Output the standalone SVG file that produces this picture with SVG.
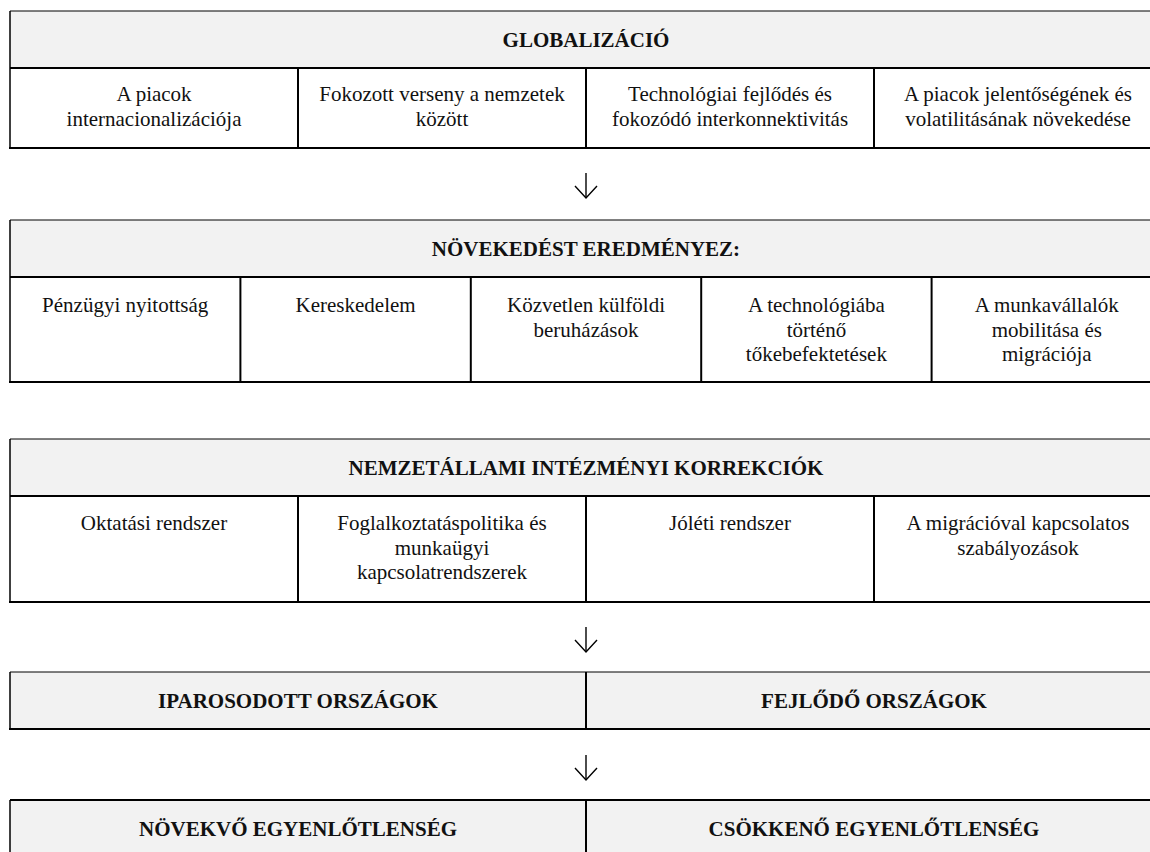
<svg xmlns="http://www.w3.org/2000/svg" width="1150" height="852" viewBox="0 0 1150 852">
  <defs>
    <style>
      .bg { fill: #ffffff; }
      .hdr { fill: #f2f2f2; }
      .thin { stroke: #000; stroke-width: 1; fill: none; }
      .thick { stroke: #000; stroke-width: 2; fill: none; }
      .side { stroke: #000; stroke-width: 1.5; fill: none; }
      .t { font-family: "Liberation Serif", "Times New Roman", serif; font-size: 21px; text-anchor: middle; fill: #111; }
      .h { font-weight: bold; }
      .arrow { stroke: #000; stroke-width: 1.4; fill: none; marker-end: url(#head); }
    </style>
    <marker id="head" viewBox="-1 -1 14 24" refX="12" refY="11" markerWidth="14" markerHeight="24" markerUnits="userSpaceOnUse" orient="auto" overflow="visible">
      <path d="M0,0 L12,11 L0,22" fill="none" stroke="#000" stroke-width="1.4"/>
    </marker>
  </defs>
  <rect class="bg" x="0" y="0" width="1150" height="852"/>

  <!-- Table 1: GLOBALIZÁCIÓ -->
  <g id="globalizacio">
    <rect class="hdr" x="10" y="11" width="1152" height="57"/>
    <text class="t h" x="586" y="47">GLOBALIZÁCIÓ</text>
    <g id="glob-1"><text class="t" x="154" y="101">A piacok</text><text class="t" x="154" y="125.5">internacionalizációja</text></g>
    <g id="glob-2"><text class="t" x="442" y="101">Fokozott verseny a nemzetek</text><text class="t" x="442" y="125.5">között</text></g>
    <g id="glob-3"><text class="t" x="730" y="101">Technológiai fejlődés és</text><text class="t" x="730" y="125.5">fokozódó interkonnektivitás</text></g>
    <g id="glob-4"><text class="t" x="1018" y="101">A piacok jelentőségének és</text><text class="t" x="1018" y="125.5">volatilitásának növekedése</text></g>
    <line class="thin" x1="10" y1="11" x2="1162" y2="11"/>
    <line class="thick" x1="10" y1="68" x2="1162" y2="68"/>
    <line class="thick" x1="9" y1="148" x2="1162" y2="148"/>
    <line class="side" x1="10" y1="11" x2="10" y2="149"/>
    <line class="thick" x1="298" y1="68" x2="298" y2="148"/>
    <line class="thick" x1="586" y1="68" x2="586" y2="148"/>
    <line class="thick" x1="874" y1="68" x2="874" y2="148"/>
  </g>

  <!-- Table 2: NÖVEKEDÉST EREDMÉNYEZ -->
  <g id="novekedes">
    <rect class="hdr" x="10" y="220" width="1152" height="57"/>
    <text class="t h" x="586" y="256">NÖVEKEDÉST EREDMÉNYEZ:</text>
    <g id="nov-1"><text class="t" x="125.2" y="312">Pénzügyi nyitottság</text></g>
    <g id="nov-2"><text class="t" x="355.6" y="312">Kereskedelem</text></g>
    <g id="nov-3"><text class="t" x="586" y="312">Közvetlen külföldi</text><text class="t" x="586" y="336.5">beruházások</text></g>
    <g id="nov-4"><text class="t" x="816.4" y="312">A technológiába</text><text class="t" x="816.4" y="336.5">történő</text><text class="t" x="816.4" y="361">tőkebefektetések</text></g>
    <g id="nov-5"><text class="t" x="1046.8" y="312">A munkavállalók</text><text class="t" x="1046.8" y="336.5">mobilitása és</text><text class="t" x="1046.8" y="361">migrációja</text></g>
    <line class="thin" x1="10" y1="220" x2="1162" y2="220"/>
    <line class="thick" x1="10" y1="277" x2="1162" y2="277"/>
    <line class="thick" x1="9" y1="382" x2="1162" y2="382"/>
    <line class="side" x1="10" y1="220" x2="10" y2="383"/>
    <line class="thick" x1="240.4" y1="277" x2="240.4" y2="382"/>
    <line class="thick" x1="470.8" y1="277" x2="470.8" y2="382"/>
    <line class="thick" x1="701.2" y1="277" x2="701.2" y2="382"/>
    <line class="thick" x1="931.6" y1="277" x2="931.6" y2="382"/>
  </g>

  <!-- Table 3: NEMZETÁLLAMI INTÉZMÉNYI KORREKCIÓK -->
  <g id="korrekciok">
    <rect class="hdr" x="10" y="439" width="1152" height="57"/>
    <text class="t h" x="586" y="475">NEMZETÁLLAMI INTÉZMÉNYI KORREKCIÓK</text>
    <g id="korr-1"><text class="t" x="154" y="530">Oktatási rendszer</text></g>
    <g id="korr-2"><text class="t" x="442" y="530">Foglalkoztatáspolitika és</text><text class="t" x="442" y="554.5">munkaügyi</text><text class="t" x="442" y="579">kapcsolatrendszerek</text></g>
    <g id="korr-3"><text class="t" x="730" y="530">Jóléti rendszer</text></g>
    <g id="korr-4"><text class="t" x="1018" y="530">A migrációval kapcsolatos</text><text class="t" x="1018" y="554.5">szabályozások</text></g>
    <line class="thin" x1="10" y1="439" x2="1162" y2="439"/>
    <line class="thick" x1="10" y1="496" x2="1162" y2="496"/>
    <line class="thick" x1="9" y1="602" x2="1162" y2="602"/>
    <line class="side" x1="10" y1="439" x2="10" y2="603"/>
    <line class="thick" x1="298" y1="496" x2="298" y2="602"/>
    <line class="thick" x1="586" y1="496" x2="586" y2="602"/>
    <line class="thick" x1="874" y1="496" x2="874" y2="602"/>
  </g>

  <!-- Table 4: countries -->
  <g id="orszagok">
    <rect class="hdr" x="10" y="672" width="1152" height="57"/>
    <g id="iparosodott"><text class="t h" x="298" y="708">IPAROSODOTT ORSZÁGOK</text></g>
    <g id="fejlodo"><text class="t h" x="874" y="708">FEJLŐDŐ ORSZÁGOK</text></g>
    <line class="thin" x1="10" y1="672" x2="1162" y2="672"/>
    <line class="thick" x1="9" y1="729" x2="1162" y2="729"/>
    <line class="side" x1="10" y1="672" x2="10" y2="730"/>
    <line class="thick" x1="586" y1="672" x2="586" y2="729"/>
  </g>

  <!-- Table 5: inequality -->
  <g id="egyenlotlenseg">
    <rect class="hdr" x="10" y="800" width="1152" height="57"/>
    <g id="novekvo"><text class="t h" x="298" y="836">NÖVEKVŐ EGYENLŐTLENSÉG</text></g>
    <g id="csokkeno"><text class="t h" x="874" y="836">CSÖKKENŐ EGYENLŐTLENSÉG</text></g>
    <line class="thick" x1="10" y1="800" x2="1162" y2="800"/>
    <line class="side" x1="10" y1="800" x2="10" y2="852"/>
    <line class="thick" x1="586" y1="800" x2="586" y2="852"/>
  </g>

  <!-- Connectors -->
  <g id="connectors">
    <line class="arrow" x1="586" y1="173" x2="586" y2="198"/>
    <line class="arrow" x1="586" y1="627" x2="586" y2="652"/>
    <line class="arrow" x1="586" y1="755" x2="586" y2="780"/>
  </g>
</svg>
